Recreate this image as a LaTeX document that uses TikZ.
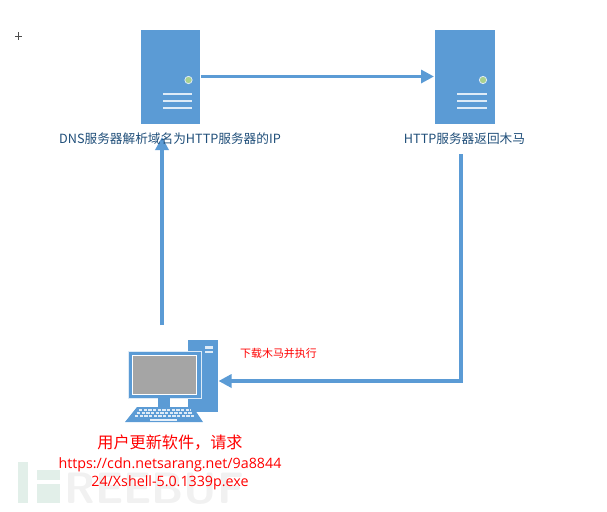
\documentclass[tikz,border=0pt]{standalone}
\usepackage{fontspec}
\setmainfont{Open Sans}
\newfontfamily\cjk{Noto Sans CJK SC}
\usetikzlibrary{arrows.meta,positioning,backgrounds,fit}
\definecolor{boxblue}{HTML}{5B9BD5}
\definecolor{labelblue}{HTML}{1F4E79}
\definecolor{ledgreen}{HTML}{A9D18E}
\definecolor{ledrim}{HTML}{DEEBF7}
\definecolor{screengrey}{HTML}{A5A5A5}
\definecolor{markgreen}{HTML}{E2EFE9}
\definecolor{markgrey}{HTML}{F1F1F1}
\tikzset{
  server/.style={fill=boxblue, minimum width=44.5pt, minimum height=70.5pt, inner sep=0pt},
  flow/.style={draw=boxblue, line width=2.4pt, -{Triangle[length=9.75pt,width=9.75pt]}},
  bluelabel/.style={text=labelblue, font=\cjk\fontsize{9.5pt}{11pt}\selectfont, inner sep=0pt},
  redlabel/.style={text=red, inner sep=0pt, align=center},
  ledlight/.style={circle, fill=ledgreen, draw=ledrim, line width=0.6pt, minimum size=5.5pt, inner sep=0pt},
  slot/.style={draw=ledrim, line width=1.3pt}
}
\begin{document}
\begin{tikzpicture}[x=0.75pt, y=-0.75pt]
  \useasboundingbox (0,0) rectangle (607,511);
  % watermark
  \fill[markgreen] (18,462) rectangle (28,503);
  \fill[markgreen] (37,470) rectangle (60,480);
  \fill[markgreen] (37,484) rectangle (60,503);
  \node (mark) [anchor=base west, text=markgrey, inner sep=0pt, font=\sffamily\bfseries\fontsize{33pt}{33pt}\selectfont] at (64,503) {REEBUF};
  % servers
  \node[server] (dns) at (170.5,77) {};
  \node[server] (http) at (465,77) {};
  \node[ledlight] (dnsled) at (188.5,80) {};
  \node[ledlight] (httpled) at (483,80) {};
  \foreach \y in {94,101,108} {
    \draw[slot] (163,\y) -- (192,\y);
    \draw[slot] (457,\y) -- (487,\y);
  }
  % computer
  \fill[boxblue] (188,340) rectangle (218,412);
  \fill[ledrim] (205,346) rectangle (213,348.5);
  \fill[ledrim] (205,350.5) rectangle (213,353);
  \node (pc) [fill=boxblue, draw=ledrim, line width=0.5pt, minimum width=54.5pt, minimum height=35.5pt, inner sep=0pt] at (164.5,375) {};
  \node (screen) [fill=screengrey, draw=white, line width=0.7pt, minimum width=48pt, minimum height=29.5pt, inner sep=0pt] at (164.5,375) {};
  \fill[boxblue] (158,398) rectangle (170,407);
  \fill[boxblue] (137,407) -- (193,407) -- (203,422) -- (125,422) -- cycle;
  \foreach \y/\a/\b in {410/139/191, 413/137/193, 416/135/195} {
    \draw[white!80!boxblue, line width=1.4pt, dash pattern=on 2.5pt off 1pt] (\a,\y) -- (\b,\y);
  }
  \fill[white!85!boxblue] (150,418.5) rectangle (177,421);
  % connectors
  \coordinate (pctop) at (162,325);
  \coordinate (dnsfoot) at (162,137);
  \coordinate (httpfoot) at (461,154);
  \coordinate (bend) at (461,381);
  \coordinate (pcright) at (218.5,381);
  \coordinate (dnsright) at (200.5,76.5);
  \coordinate (httpleft) at (434,76.5);
  \draw[flow] (dnsright) -- (httpleft);
  \draw[flow, line width=3.2pt] (pctop) -- (dnsfoot);
  \draw[flow] (httpfoot) -- (bend) -- (pcright);
  % labels
  \node[bluelabel] (dnslabel) at (170,139) {DNS服务器解析域名为HTTP服务器的IP};
  \node[bluelabel] (httplabel) at (464.5,139) {HTTP服务器返回木马};
  \node[redlabel, font=\cjk\fontsize{8.2pt}{10pt}\selectfont] (down) at (278.5,353) {下载木马并执行};
  \node[redlabel, font=\cjk\fontsize{12.1pt}{14pt}\selectfont] (user) at (170,443) {用户更新软件，请求};
  \node[redlabel, font=\fontsize{10.7pt}{13.5pt}\selectfont] (url) [below=5pt of user] {https://cdn.netsarang.net/9a8844\\24/Xshell-5.0.1339p.exe};
  % cursor
  \draw[black!70, line width=0.4pt] (15,36) -- (22,36) (18.5,32) -- (18.5,40);
\end{tikzpicture}
\end{document}
